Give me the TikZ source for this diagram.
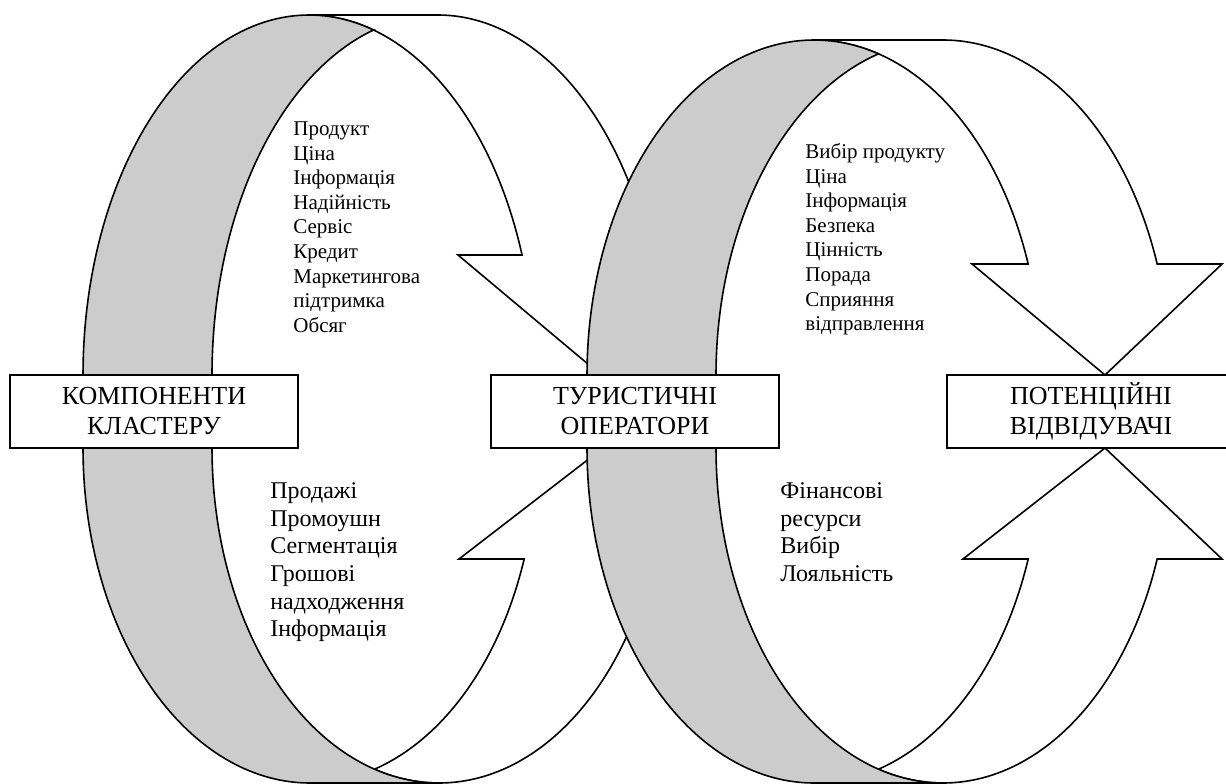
\documentclass[tikz,border=0pt]{standalone}
\usepackage{fontspec}
\setmainfont{Liberation Serif}
\definecolor{bandgray}{RGB}{204,204,204}
% elliptic arc pieces: centre x, centre y, radius x, radius y, from angle, to angle
\newcommand\earc[6]{-- plot[domain=#5:#6,samples=70,variable=\t]({#1+#3*cos(\t)},{#2+#4*sin(\t)})}
\newcommand\sarc[6]{plot[domain=#5:#6,samples=70,variable=\t]({#1+#3*cos(\t)},{#2+#4*sin(\t)})}
\tikzset{
  band/.style={draw=black, line width=0.8pt, line join=miter, fill=white},
  back/.style={draw=black, line width=0.8pt, fill=bandgray},
  box/.style={draw=black, line width=0.75pt, fill=white, minimum width=144pt,
    minimum height=36.5pt, inner sep=0pt, align=center,
    font=\fontsize{13}{15}\selectfont},
  listtop/.style={anchor=north west, inner sep=0pt, align=left,
    font=\fontsize{10.5}{12.3}\selectfont},
  listbot/.style={anchor=north west, inner sep=0pt, align=left,
    font=\fontsize{12}{13.85}\selectfont},
}
\begin{document}
\begin{tikzpicture}[x=0.5pt,y=-0.5pt]
\useasboundingbox (0,0) rectangle (1226,783);
% ---------- ring 1, upper arrow ----------
\draw[band] (601,375) -- (458,255) \earc{309}{375}{226}{360}{-19.47}{-90}
  \earc{438}{375}{226}{360}{-90}{-19.47} -- (715,255) -- cycle;
\draw[back] \sarc{438}{375}{226}{360}{-106.58}{-180}
  \earc{309}{375}{226}{360}{-180}{-73.42} -- cycle;
% ---------- ring 1, lower arrow ----------
\draw[band] (603,448) -- (459,559) \earc{310}{448}{227}{335}{19.35}{73.49}
  \earc{439}{448}{227}{335}{106.51}{19.35} -- (718,559) -- cycle;
\draw[back] \sarc{439}{448}{227}{335}{180}{90}
  \earc{310}{448}{227}{335}{90}{180} -- cycle;
% ---------- ring 2, upper arrow ----------
\draw[band] (1105,375) -- (972,264) \earc{814}{375}{227}{335}{-19.35}{-90}
  \earc{943}{375}{227}{335}{-90}{-19.35} -- (1222,264) -- cycle;
\draw[back] \sarc{943}{375}{227}{335}{-106.51}{-180}
  \earc{814}{375}{227}{335}{-180}{-73.49} -- cycle;
% ---------- ring 2, lower arrow ----------
\draw[band] (1105,448) -- (963,559) \earc{814}{448}{227}{335}{19.35}{73.49}
  \earc{943}{448}{227}{335}{106.51}{19.35} -- (1222,559) -- cycle;
\draw[back] \sarc{943}{448}{227}{335}{180}{90}
  \earc{814}{448}{227}{335}{90}{180} -- cycle;
% ---------- boxes ----------
\node[box] (k1) at (154,411.5) {КОМПОНЕНТИ\\КЛАСТЕРУ};
\node[box] (k2) at (635,411.5) {ТУРИСТИЧНІ\\ОПЕРАТОРИ};
\node[box] (k3) at (1091,411.5) {ПОТЕНЦІЙНІ\\ВІДВІДУВАЧІ};
% ---------- lists ----------
\node[listtop] (t1) at (293,115) {\rule{0pt}{10pt}Продукт\\Ціна\\Інформація\\Надійність\\Сервіс\\Кредит\\Маркетингова\\підтримка\\Обсяг};
\node[listtop] (t2) at (805,138) {\rule{0pt}{10pt}Вибір продукту\\Ціна\\Інформація\\Безпека\\Цінність\\Порада\\Сприяння\\відправлення};
\node[listbot] (t3) at (270,476) {\rule{0pt}{11pt}Продажі\\Промоушн\\Сегментація\\Грошові\\надходження\\Інформація};
\node[listbot] (t4) at (780,476) {\rule{0pt}{11pt}Фінансові\\ресурси\\Вибір\\Лояльність};
\end{tikzpicture}
\end{document}
